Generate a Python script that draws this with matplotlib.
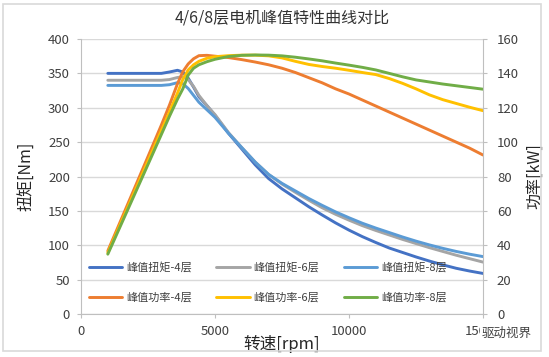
import matplotlib
matplotlib.use('Agg')
import matplotlib.pyplot as plt
from matplotlib.patches import Rectangle

plt.rcParams['font.family'] = ['Noto Sans CJK SC', 'DejaVu Sans']

# ---------------- data ----------------
speed_rpm = [1000, 1500, 2000, 2500, 3000, 3300, 3600, 3800, 4000, 4200, 4400,
             4700, 5000, 5500, 6000, 6500, 7000, 7500, 8000, 8500, 9000, 9500,
             10000, 10500, 11000, 11500, 12000, 12500, 13000, 13500, 14000,
             14500, 15000]

torque_4 = [350, 350, 350, 350, 350, 352, 354.5, 352, 343, 330, 316,
            303, 289, 263, 240, 217, 197, 182, 169, 156, 144, 132.5,
            122, 112.5, 104, 96, 89.5, 83, 77, 71.5, 66.5, 62.5, 59]
torque_6 = [340, 340, 340, 340, 340, 341, 344, 345, 341, 331, 318,
            303, 290, 264, 242, 221, 203, 189, 177, 165.5, 154.5, 145,
            136.5, 128.5, 121.5, 115, 108.5, 102.5, 96.5, 91, 85.5, 80.5, 75.5]
torque_8 = [332.5, 332.5, 332.5, 332.5, 332.5, 333.5, 336.5, 335, 328, 318, 308,
            297, 286, 263, 242, 221, 203, 190, 179, 168, 158, 148.5,
            140, 132, 125, 118.5, 112, 106, 100.5, 95.5, 91, 87, 83.5]

power_4 = [36.7, 55, 73.3, 91.6, 110, 121.5, 134, 141, 145.5, 148.5, 150.3,
           150.5, 150, 149.2, 148, 146.6, 145, 143, 140.5, 137.5, 134.5, 131,
           128, 124.5, 121, 117.5, 114, 110.5, 107, 103.5, 100, 96.5, 92.5]
power_6 = [35.6, 53.4, 71.2, 89, 106.8, 117.5, 128.5, 136.5, 142, 145, 147,
           148.8, 149.7, 150.3, 150.6, 150.6, 150.2, 149, 147, 145.2, 144, 143,
           141.8, 140.5, 139.3, 137, 134.2, 131, 127.5, 124.7, 122.5, 120.3, 118.3]
power_8 = [34.8, 52.2, 69.6, 87, 104.5, 115, 125, 131, 139, 143, 145,
           146.8, 148.2, 149.8, 150.5, 150.7, 150.6, 150.2, 149.4, 148.4, 147.3, 146,
           144.8, 143.5, 142, 140, 138, 136.2, 135, 133.8, 132.8, 131.8, 130.8]

torque_labels = ['峰值扭矩-4层', '峰值扭矩-6层', '峰值扭矩-8层']
power_labels = ['峰值功率-4层', '峰值功率-6层', '峰值功率-8层']
torque_colors = ['#4472C4', '#A5A5A5', '#5B9BD5']
power_colors = ['#ED7D31', '#FFC000', '#70AD47']

title = '4/6/8层电机峰值特性曲线对比'
xlabel = '转速[rpm]'
ylabel_left = '扭矩[Nm]'
ylabel_right = '功率[kW]'
watermark = '驱动视界'
x_ticks = [0, 5000, 10000, 15000]
left_ticks = [0, 50, 100, 150, 200, 250, 300, 350, 400]
right_ticks = [0, 20, 40, 60, 80, 100, 120, 140, 160]

# ---------------- figure ----------------
W, H = 549, 357
fig = plt.figure(figsize=(W / 100, H / 100), dpi=100)
fig.patch.set_facecolor('white')

L, R, T, B = 81, 483, 39, 314
ax = fig.add_axes([L / W, 1 - B / H, (R - L) / W, (B - T) / H])
ax2 = ax.twinx()

lw = 2.1
h_t = []
for y, c, lab in zip([torque_4, torque_6, torque_8], torque_colors, torque_labels):
    h, = ax.plot(speed_rpm, y, color=c, lw=lw, label=lab,
                 solid_capstyle='round', solid_joinstyle='round')
    h_t.append(h)
h_p = []
for y, c, lab in zip([power_4, power_6, power_8], power_colors, power_labels):
    h, = ax2.plot(speed_rpm, y, color=c, lw=lw, label=lab,
                  solid_capstyle='round', solid_joinstyle='round')
    h_p.append(h)

grid_c = '#D9D9D9'
axis_c = '#BFBFBF'
txt_c = '#404040'

ax.set_xlim(0, 15000)
ax.set_ylim(0, 400)
ax2.set_ylim(0, 160)
ax.set_xticks(x_ticks)
ax.set_yticks(left_ticks)
ax2.set_yticks(right_ticks)
ax.yaxis.grid(True, color=grid_c, lw=1.0)
ax.set_axisbelow(True)

for s in ['top', 'right']:
    ax.spines[s].set_visible(False)
for s in ['top', 'left', 'bottom']:
    ax2.spines[s].set_visible(False)
ax.spines['left'].set_color(axis_c)
ax.spines['bottom'].set_color(axis_c)
ax2.spines['right'].set_color(axis_c)
for sp in [ax.spines['left'], ax.spines['bottom'], ax2.spines['right']]:
    sp.set_linewidth(0.8)

ax.tick_params(axis='both', length=3, width=0.8, color=axis_c,
               labelsize=9.5, labelcolor=txt_c, pad=5)
ax2.tick_params(axis='y', length=3, width=0.8, color=axis_c,
                labelsize=9.5, labelcolor=txt_c, pad=7)

ax.set_xlabel(xlabel, fontsize=12, color='#262626', labelpad=-2)
ax.set_ylabel(ylabel_left, fontsize=11.5, color='#262626', labelpad=9)
ax2.set_ylabel(ylabel_right, fontsize=11.5, color='#262626', labelpad=5)

fig.text((L + R) / 2 / W, 1 - 18 / H, title, ha='center', va='center',
         fontsize=11.5, color='#333333')

handles = [h_t[0], h_p[0], h_t[1], h_p[1], h_t[2], h_p[2]]
leg = fig.legend(handles=handles, labels=[h.get_label() for h in handles],
                 ncol=3, loc='upper left',
                 bbox_to_anchor=(89 / W, 1 - 262 / H),
                 bbox_transform=fig.transFigure, frameon=False,
                 fontsize=8, handlelength=3.0, handletextpad=0.35,
                 columnspacing=2.2, labelspacing=1.75, borderpad=0,
                 borderaxespad=0)
for t in leg.get_texts():
    t.set_color(txt_c)

# outer chart border
fig.patches.append(Rectangle((3 / W, 1 - 351 / H), 538 / W, 347 / H,
                             transform=fig.transFigure, fill=False,
                             edgecolor='#D9D9D9', lw=1.2))

# watermark (covers the tail of the last x tick label, as in the reference)
fig.text(482 / W, 1 - 333 / H, watermark, ha='left', va='center', fontsize=9,
         color='#404040',
         bbox=dict(boxstyle='square,pad=0.15', facecolor='white', edgecolor='none'))

fig.savefig('out.png', dpi=100, facecolor='white')
